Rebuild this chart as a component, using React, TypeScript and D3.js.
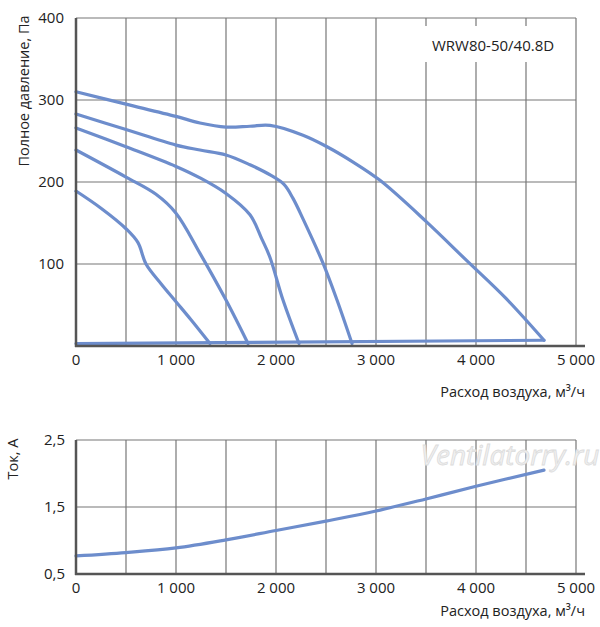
import React from 'react';
import * as d3 from 'd3';

// Pressure curves (Q m3/h, P Pa)
const curve1 = [[0, 189], [250, 168], [500, 143], [620, 126], [700, 100], [850, 76], [1000, 54], [1150, 32], [1340, 3]];
const curve2 = [[0, 239], [500, 206], [800, 185], [1000, 162], [1240, 113], [1500, 56], [1720, 3]];
const curve3 = [[0, 266], [500, 243], [1000, 219], [1240, 205], [1500, 186], [1740, 160], [1860, 130], [1940, 108], [2070, 56], [2230, 3]];
const curve4 = [[0, 283], [500, 264], [1000, 245], [1240, 239], [1500, 233], [1740, 221], [1950, 208], [2080, 197], [2170, 180], [2270, 155], [2470, 101], [2610, 56], [2760, 3]];
const curve5 = [[0, 310], [500, 295], [1000, 280], [1240, 272], [1500, 267], [1740, 268], [1940, 269], [2270, 257], [2510, 243], [2775, 224], [3040, 202], [3500, 152], [3900, 105], [4300, 58], [4680, 7]];
const baseLine = [[0, 3], [4680, 7]];
const pressureCurves = [curve1, curve2, curve3, curve4, curve5, baseLine];

// Current curve (Q m3/h, I A)
const currentCurve = [[0, 0.77], [500, 0.82], [1000, 0.89], [1500, 1.01], [2000, 1.15], [2500, 1.29], [3000, 1.44], [3500, 1.62], [4000, 1.81], [4680, 2.05]];

const xTicks = [0, 1000, 2000, 3000, 4000, 5000];
const xGrid = [500, 1000, 1500, 2000, 2500, 3000, 3500, 4000, 4500, 5000];
const pTicks = [100, 200, 300, 400];
const pGrid = [100, 200, 300, 400];
const iTicks = [0.5, 1.5, 2.5];
const iGrid = [1.5, 2.5];

const modelName = 'WRW80-50/40.8D';
const pTitle = 'Полное давление, Па';
const iTitle = 'Ток, А';
const xTitle = 'Расход воздуха, м³/ч';

const FONT = "'Open Sans', sans-serif";
const CURVE = '#6d8dcc';
const GRID = '#777';
const AXIS = '#555';

const fmtX = (v: number) => (v === 0 ? '0' : `${Math.floor(v / 1000)} ${String(v % 1000).padStart(3, '0')}`);
const fmtI = (v: number) => v.toFixed(1).replace('.', ',');

export default function App() {
  const x = d3.scaleLinear().domain([0, 5000]).range([76, 576]);
  const yP = d3.scaleLinear().domain([0, 400]).range([346, 18]);
  const yI = d3.scaleLinear().domain([0.5, 2.5]).range([574, 440]);

  const lineP = d3.line<number[]>().x((d) => x(d[0])).y((d) => yP(d[1])).curve(d3.curveCatmullRom.alpha(0.5));
  const lineI = d3.line<number[]>().x((d) => x(d[0])).y((d) => yI(d[1])).curve(d3.curveCatmullRom.alpha(0.5));

  return (
    <svg width={600} height={627} style={{ position: 'absolute', left: 0, top: 0, background: '#fff' }} fontFamily={FONT}>
      {/* ---------- top chart: pressure ---------- */}
      <g>
        {xGrid.map((v) => (
          <line key={'xg' + v} x1={x(v)} x2={x(v)} y1={yP(400)} y2={yP(0)} stroke={GRID} strokeWidth={1.2} />
        ))}
        {pGrid.map((v) => (
          <line key={'pg' + v} x1={x(0)} x2={x(5000)} y1={yP(v)} y2={yP(v)} stroke={GRID} strokeWidth={1.2} />
        ))}
        {/* model label box */}
        <rect x={424} y={26} width={140} height={36} fill="#fff" />
        <text x={432} y={51} fontSize={15} fill="#222">{modelName}</text>

        {pressureCurves.map((c, i) => (
          <path key={'pc' + i} d={lineP(c) || ''} fill="none" stroke={CURVE} strokeWidth={3.2} strokeLinejoin="round" strokeLinecap="round" />
        ))}

        <line x1={x(0)} x2={x(0)} y1={yP(400)} y2={yP(0) + 1} stroke={AXIS} strokeWidth={2.5} />
        <line x1={x(0) - 1} x2={585} y1={yP(0)} y2={yP(0)} stroke={AXIS} strokeWidth={2.5} />

        {pTicks.map((v) => (
          <text key={'pt' + v} x={64} y={yP(v) + 5} fontSize={15} textAnchor="end" fill="#222">{v}</text>
        ))}
        {xTicks.map((v) => (
          <text key={'xt' + v} x={x(v)} y={365} fontSize={15} textAnchor="middle" fill="#222">{fmtX(v)}</text>
        ))}
        <text x={585} y={397} fontSize={14.5} textAnchor="end" fill="#222">{xTitle}</text>
        <text transform="translate(29,91) rotate(-90)" fontSize={14.5} textAnchor="middle" fill="#222">{pTitle}</text>
      </g>

      {/* ---------- bottom chart: current ---------- */}
      <g>
        {xGrid.map((v) => (
          <line key={'xg2' + v} x1={x(v)} x2={x(v)} y1={yI(2.5)} y2={yI(0.5)} stroke={GRID} strokeWidth={1.2} />
        ))}
        {iGrid.map((v) => (
          <line key={'ig' + v} x1={x(0)} x2={x(5000)} y1={yI(v)} y2={yI(v)} stroke={GRID} strokeWidth={1.2} />
        ))}

        <text x={510} y={465} fontSize={28} fontStyle="italic" textAnchor="middle" fill="#f0f0f0" stroke="#dcdcdc" strokeWidth={0.8}>Ventilatorry.ru</text>

        <path d={lineI(currentCurve) || ''} fill="none" stroke={CURVE} strokeWidth={3.2} strokeLinecap="round" />

        <line x1={x(0)} x2={x(0)} y1={yI(2.5)} y2={yI(0.5) + 1} stroke={AXIS} strokeWidth={2.5} />
        <line x1={x(0) - 1} x2={585} y1={yI(0.5)} y2={yI(0.5)} stroke={AXIS} strokeWidth={2.5} />

        {iTicks.map((v) => (
          <text key={'it' + v} x={65} y={yI(v) + 5} fontSize={15} textAnchor="end" fill="#222">{fmtI(v)}</text>
        ))}
        {xTicks.map((v) => (
          <text key={'xt2' + v} x={x(v)} y={593} fontSize={15} textAnchor="middle" fill="#222">{fmtX(v)}</text>
        ))}
        <text x={585} y={616} fontSize={14.5} textAnchor="end" fill="#222">{xTitle}</text>
        <text transform="translate(18,459) rotate(-90)" fontSize={14.5} textAnchor="middle" fill="#222">{iTitle}</text>
      </g>
    </svg>
  );
}
